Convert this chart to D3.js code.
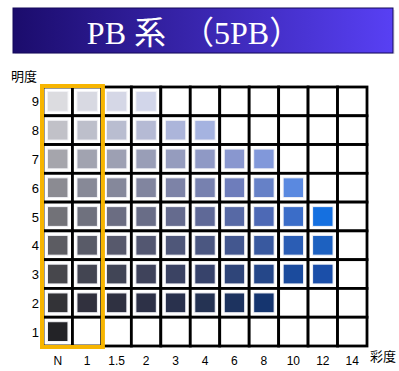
<!DOCTYPE html>
<html>
<head>
<meta charset="utf-8">
<script src="https://cdn.jsdelivr.net/npm/d3@7"></script>
<style>
body { margin: 0; background: #fff; }
svg { display: block; }
</style>
</head>
<body>
<div id="chart"></div>
<script>
// Munsell 5PB chart
var chromaLabels = ['N', '1', '1.5', '2', '3', '4', '6', '8', '10', '12', '14'];
var valueLevels = [9, 8, 7, 6, 5, 4, 3, 2, 1];

// swatch colours per value row, in chroma order
var row9 = ['#dcdce0', '#d8d9e2', '#d5d7e6', '#d2d6ea'];
var row8 = ['#c1c1c8', '#bdbfcb', '#b9bdd0', '#b5bad4', '#acb5da', '#a5b3e0'];
var row7 = ['#a5a5ac', '#a1a3b0', '#9da0b3', '#999eb7', '#959cbe', '#8f99c5', '#8997cf', '#8198da'];
var row6 = ['#8b8b92', '#878997', '#85889b', '#81859f', '#7d83a7', '#7781af', '#6e7dbb', '#6681c7', '#5a89e0'];
var row5 = ['#727278', '#6f717e', '#6b6d82', '#696d87', '#656b8e', '#5f6997', '#5769a5', '#4d69b5', '#3b6dc8', '#1570e0'];
var row4 = ['#5c5c62', '#595b68', '#57596c', '#535771', '#4f5779', '#4b5781', '#43578f', '#39599f', '#2b5db4', '#1d61c0'];
var row3 = ['#47474c', '#434552', '#414556', '#3f435b', '#3b4363', '#37436b', '#2f4579', '#254789', '#1b4b9d', '#1b4fa9'];
var row2 = ['#333337', '#31313e', '#2f3141', '#2d3147', '#29314d', '#253353', '#1d335f', '#15356f'];
var row1 = ['#232327'];

var rows = [row9, row8, row7, row6, row5, row4, row3, row2, row1];

var width = 399, height = 371;

var svg = d3.select('#chart')
	.append('svg')
	.attr('width', width)
	.attr('height', height);

// TITLE BANNER
var grad = svg.append('defs')
	.append('linearGradient')
	.attr('id', 'bannergrad')
	.attr('x1', '0%').attr('x2', '100%');
grad.append('stop').attr('offset', '0%').attr('stop-color', '#1b0c6c');
grad.append('stop').attr('offset', '100%').attr('stop-color', '#5840f4');

svg.append('rect')
	.attr('x', 15).attr('y', 10)
	.attr('width', 380).attr('height', 44)
	.attr('fill', '#e8e8ee');
svg.append('rect')
	.attr('x', 13).attr('y', 8)
	.attr('width', 380).attr('height', 45)
	.attr('fill', 'url(#bannergrad)')
	.attr('stroke', '#14085a')
	.attr('stroke-width', 1);
svg.append('text')
	.attr('x', 194).attr('y', 44)
	.attr('text-anchor', 'middle')
	.attr('fill', '#fff')
	.style('font-family', '"Liberation Serif", "DejaVu Serif", "Noto Sans CJK JP", serif')
	.style('font-size', '32px')
	.text('PB 系　（5PB）');

// SCALES
var x = d3.scaleBand()
	.domain(chromaLabels)
	.range([43, 367]);
var y = d3.scaleBand()
	.domain(valueLevels)
	.range([87, 346]);

// CELLS
var cells = [];
rows.forEach(function(r, i){
	chromaLabels.forEach(function(c, j){
		cells.push({ value: valueLevels[i], chroma: c, color: r[j] || null });
	});
});

var g = svg.append('g');

g.selectAll('.cell')
	.data(cells)
	.enter()
	.append('rect')
	.attr('class', 'cell')
	.attr('x', function(d){ return x(d.chroma); })
	.attr('y', function(d){ return y(d.value); })
	.attr('width', x.bandwidth())
	.attr('height', y.bandwidth())
	.attr('fill', '#fff')
	.attr('stroke', '#000')
	.attr('stroke-width', 2.8);

g.selectAll('.swatch')
	.data(cells.filter(function(d){ return d.color; }))
	.enter()
	.append('rect')
	.attr('class', 'swatch')
	.attr('x', function(d){ return x(d.chroma) + 4.5; })
	.attr('y', function(d){ return y(d.value) + 4.5; })
	.attr('width', x.bandwidth() - 9)
	.attr('height', y.bandwidth() - 9)
	.attr('fill', function(d){ return d.color; })
	.attr('stroke', '#f2f2f6')
	.attr('stroke-width', 1);

// ORANGE HIGHLIGHT (N and 1)
svg.append('rect')
	.attr('x', x('N') - 1)
	.attr('y', y(9) - 1)
	.attr('width', x('1') + x.bandwidth() - x('N') + 2)
	.attr('height', y(1) + y.bandwidth() - y(9) + 2)
	.attr('fill', 'none')
	.attr('stroke', '#f7b500')
	.attr('stroke-width', 4);

// AXIS LABELS
var font = 'Arial, "Liberation Sans", "Noto Sans CJK JP", sans-serif';

svg.append('g')
	.selectAll('text')
	.data(valueLevels)
	.enter()
	.append('text')
	.attr('x', 39)
	.attr('y', function(d){ return y(d) + y.bandwidth() / 2 + 5; })
	.attr('text-anchor', 'end')
	.style('font-family', font)
	.style('font-size', '13px')
	.text(function(d){ return d; });

svg.append('g')
	.selectAll('text')
	.data(chromaLabels)
	.enter()
	.append('text')
	.attr('x', function(d){ return x(d) + x.bandwidth() / 2; })
	.attr('y', 365)
	.attr('text-anchor', 'middle')
	.style('font-family', font)
	.style('font-size', '12px')
	.text(function(d){ return d; });

svg.append('text')
	.attr('x', 11).attr('y', 81)
	.style('font-family', font)
	.style('font-size', '13px')
	.text('明度');

svg.append('text')
	.attr('x', 370).attr('y', 361)
	.style('font-family', font)
	.style('font-size', '13px')
	.text('彩度');
</script>
</body>
</html>
